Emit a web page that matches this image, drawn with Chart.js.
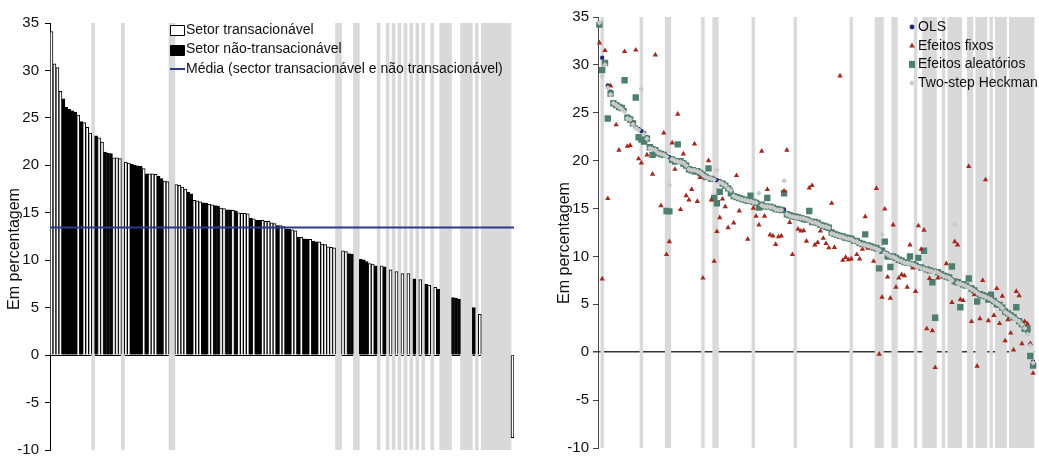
<!DOCTYPE html>
<html lang="pt">
<head>
<meta charset="utf-8">
<title>Margens por setor</title>
<script src="https://cdn.jsdelivr.net/npm/chart.js@4.4.1/dist/chart.umd.min.js"></script>
<style>
  html, body { margin: 0; padding: 0; background: #fff; }
  #painel { position: relative; width: 1039px; height: 456px; }
  #graficoSetores { position: absolute; left: 0; top: 0; }
  #graficoEstimadores { position: absolute; left: 520px; top: 0; }
</style>
</head>
<body>
<div id="painel">
  <canvas id="graficoSetores" width="520" height="456"></canvas>
  <canvas id="graficoEstimadores" width="519" height="456"></canvas>
</div>
<script>
// Margem por setor, ordenada de forma decrescente (null = setor sem barra)
const margemSetor = [
  34.1, 30.7, 30.3, 27.8, 27.0, 26.1, 25.9, 25.75, 25.6, 25.3,
  24.6, 24.5, 24.0, 23.4, null, 23.1, 22.9, 22.45, 21.4, 21.3,
  21.25, 20.8, 20.8, 20.7, null, 20.35, 20.25, 20.1, 20.0, 19.95,
  19.9, 19.65, 19.1, 19.1, 19.1, 19.05, 18.85, 18.6, 18.35, 18.3,
  null, null, 17.97, 17.9, 17.7, 17.5, 17.15, 17.0, 16.3, 16.25,
  16.15, 16.05, 16.0, 15.9, 15.85, 15.75, 15.7, 15.5, 15.45, 15.3,
  15.3, 15.25, 15.2, 15.0, 14.95, 14.95, 14.9, 14.45, 14.35, 14.2,
  14.2, 14.2, 14.1, 14.1, 13.95, 13.85, 13.65, 13.65, 13.55, 13.3,
  13.25, 13.2, 13.1, 12.45, 12.4, 12.25, 12.2, 12.2, 12.0, 11.95,
  11.95, 11.7, 11.65, 11.4, 11.35, 11.3, null, null, 11.0, 10.9,
  10.7, 10.65, null, null, 10.1, 10.05, 9.85, 9.65, 9.6, 9.4,
  null, 9.4, 9.3, null, 9.0, null, 8.8, null, 8.6, null,
  8.6, null, 8.05, null, 7.95, null, 7.45, 7.35, null, 7.15,
  6.95, null, null, null, null, 6.05, 6.0, 5.9, null, null,
  null, null, 5.0, null, 4.3, null, null, null, null, null,
  null, null, null, null, null, -8.7
];
// 1 = setor transacionável, 0 = não transacionável
const tipoSetor = [
  1, 1, 1, 1, 0, 0, 0, 0, 0, 1,
  0, 1, 1, 1, null, 0, 1, 1, 0, 0,
  0, 1, 1, 1, null, 1, 1, 0, 0, 0,
  0, 1, 0, 1, 1, 1, 0, 0, 1, 1,
  null, null, 1, 1, 1, 1, 0, 0, 1, 1,
  1, 0, 0, 1, 1, 0, 0, 1, 1, 0,
  0, 1, 0, 1, 1, 1, 1, 0, 1, 0,
  0, 1, 1, 1, 1, 1, 0, 1, 1, 0,
  0, 1, 1, 0, 1, 0, 0, 1, 0, 0,
  1, 1, 1, 1, 1, 1, null, null, 1, 1,
  0, 0, null, null, 0, 0, 0, 1, 1, 0,
  null, 1, 0, null, 1, null, 1, null, 1, null,
  1, null, 0, null, 1, null, 0, 1, null, 1,
  0, null, null, null, null, 0, 0, 0, null, null,
  null, null, 0, null, 1, null, null, null, null, null,
  null, null, null, null, null, 1
];
const mediaGeral = 13.45;

// Estimativas por setor, mesma ordenação
const ols = [
  34.2, 30.75, 30.2, 27.85, 27.2, 26.1, 25.9, 25.75, 25.6, 25.3,
  24.6, 24.4, 24.0, 23.5, 23.3, 23.1, 22.9, 22.45, 21.5, 21.35,
  21.25, 20.9, 20.8, 20.7, 20.5, 20.35, 20.25, 20.1, 20.0, 19.95,
  19.85, 19.6, 19.2, 19.1, 19.1, 19.0, 18.85, 18.6, 18.4, 18.3,
  18.2, 18.1, 17.95, 17.85, 17.7, 17.5, 17.2, 17.0, 16.4, 16.25,
  16.15, 16.05, 16.0, 15.9, 15.85, 15.75, 15.7, 15.5, 15.45, 15.3,
  15.3, 15.25, 15.2, 15.0, 14.95, 14.95, 14.9, 14.5, 14.35, 14.25,
  14.2, 14.15, 14.1, 14.05, 13.95, 13.85, 13.7, 13.65, 13.55, 13.35,
  13.25, 13.2, 13.1, 12.5, 12.4, 12.3, 12.2, 12.15, 12.0, 11.95,
  11.9, 11.7, 11.65, 11.45, 11.35, 11.3, 11.2, 11.1, 11.0, 10.9,
  10.75, 10.65, 10.45, 10.3, 10.1, 10.05, 9.9, 9.7, 9.6, 9.45,
  9.4, 9.35, 9.25, 9.1, 9.0, 8.9, 8.8, 8.7, 8.6, 8.55,
  8.5, 8.4, 8.2, 8.05, 7.95, 7.85, 7.6, 7.45, 7.35, 7.25,
  7.15, 7.0, 6.85, 6.7, 6.5, 6.3, 6.1, 6.0, 5.9, 5.75,
  5.6, 5.4, 5.2, 5.0, 4.7, 4.3, 4.1, 3.9, 3.7, 3.5,
  3.3, 3.0, 2.6, 2.0, 0.8, -1.0
];
const efeitosFixos = [
  32.3, 7.65, 31.5, 16.05, 27.8, null, 23.75, 21.1, null, 31.4,
  21.5, 21.6, 23.9, 31.55, 20.2, 19.75, null, 20.6, null, 18.6,
  31.05, null, 15.3, 22.9, 10.2, 11.55, 21.85, 19.1, 24.85, 14.9,
  20.7, 16.35, 15.9, 17.0, 21.75, 15.75, 18.25, 7.75, null, 20.0,
  15.9, 9.5, 12.6, 14.05, 16.0, 15.2, 13.0, null, 13.5, 18.45,
  14.75, null, null, 11.8, null, 15.05, 14.2, 13.3, 21.0, 14.2,
  17.0, 12.25, 12.15, 11.25, 12.05, 12.15, 16.85, 21.1, 13.55, 10.2,
  null, 12.85, 12.65, 12.7, 11.6, 17.15, 17.4, 11.2, 11.45, 12.65,
  11.9, 11.35, 10.9, 15.55, 10.95, null, 28.85, 9.6, 9.9, 9.65,
  9.75, null, 10.2, 9.75, 10.75, 14.15, 10.85, null, 9.5, 17.1,
  -0.2, 5.75, 14.95, 7.85, 5.65, 13.3, 6.8, 7.75, 8.1, 8.0,
  6.8, 11.2, 8.8, 6.35, 13.2, 10.75, 12.75, 2.45, 7.7, 2.25,
  -1.6, 7.75, 8.1, 7.9, 9.25, null, 5.2, 11.55, 11.2, 5.5,
  5.4, null, 19.4, 3.2, 6.0, -1.45, 3.5, 7.5, 18.0, 3.3,
  null, 3.85, 6.65, 3.0, 5.85, 1.2, 3.4, 2.0, 0.25, 6.35,
  5.9, 0.9, 3.2, 2.95, 0.9, -2.2
];
const efeitosAleatorios = [
  34.2, 29.45, 30.2, 24.4, 27.0, 26.0, 25.8, 25.6, 25.5, 28.4,
  24.5, 24.3, 23.9, 26.6, 22.45, 22.2, 22.0, 22.3, 21.4, 20.6,
  21.1, 20.8, 20.7, 20.6, 14.75, 14.7, 20.1, 19.9, 21.7, 19.95,
  19.7, 19.5, 19.1, 19.0, 18.9, 18.9, 18.7, 18.5, 18.3, 19.2,
  18.1, 16.1, 15.55, 16.75, 17.6, 17.4, 17.1, 16.6, 16.3, 16.2,
  16.1, 16.0, 15.9, 15.8, 16.35, 15.7, 15.6, 15.1, 15.4, 15.2,
  16.1, 15.2, 15.1, 14.95, 14.9, 14.85, 16.6, 14.4, 14.3, 14.2,
  14.15, 14.1, 14.0, 13.9, 13.85, 14.75, 13.6, 13.6, 13.5, 13.3,
  13.2, 13.1, 13.0, 12.5, 12.35, 12.25, 12.15, 12.1, 11.95, 11.9,
  11.85, 11.65, 11.6, 11.4, 11.3, 12.3, 11.15, 11.05, 10.95, 10.85,
  8.75, 10.6, 11.55, 10.0, 8.9, 10.0, 9.85, 9.65, 9.55, 9.4,
  9.35, 10.0, 9.2, 9.05, 9.85, 8.85, 10.6, 8.65, 8.55, 7.3,
  3.6, 8.35, 8.15, 8.0, 7.9, 7.8, 8.95, 7.4, 7.3, 4.7,
  7.1, 6.95, 7.7, 6.65, 6.45, 5.3, 6.05, 5.95, 5.85, 5.5,
  6.0, 5.35, 5.0, 4.95, 4.65, 4.25, 4.05, 3.85, 3.65, 4.7,
  3.25, 2.95, 2.45, 2.45, -0.4, -1.4
];
const heckman = [
  34.4, 28.8, 30.0, 27.6, 26.9, 26.0, 25.8, 25.6, 25.4, 25.1,
  24.4, 24.3, 23.8, 23.4, 23.2, 27.45, 22.8, 22.3, 21.3, 21.2,
  21.1, 20.8, 20.7, 20.6, 20.4, 17.45, 20.15, 20.0, 19.9, 19.85,
  19.75, 19.5, 19.1, 19.0, 19.0, 18.9, 18.75, 18.5, 18.3, 18.2,
  18.1, 18.0, 19.05, 17.75, 17.6, 17.4, 17.1, 16.9, 16.3, 16.15,
  16.05, 15.95, 15.9, 15.8, 15.75, 15.65, 15.6, 16.6, 15.35, 15.2,
  15.2, 15.15, 15.1, 14.9, 14.85, 14.85, 17.9, 14.4, 14.25, 14.15,
  14.1, 14.05, 14.0, 13.95, 13.85, 13.75, 13.6, 13.55, 13.45, 13.25,
  13.15, 13.1, 13.0, 12.4, 12.3, 12.2, 12.1, 12.05, 11.9, 11.85,
  11.8, 11.6, 11.55, 11.35, 11.25, 11.2, 11.1, 11.0, 10.9, 10.8,
  10.65, 12.3, 10.35, 10.2, 10.0, 9.95, 9.8, 9.6, 9.5, 9.35,
  9.3, 9.25, 9.15, 9.0, 8.9, 8.8, 8.7, 8.6, 8.5, 8.45,
  8.4, 8.3, 8.1, 7.95, 7.85, 7.75, 7.5, 13.35, 7.25, 7.15,
  7.05, 6.9, 6.75, 6.6, 6.4, 6.2, 6.0, 5.9, 5.8, 5.65,
  5.5, 5.3, 5.1, 4.9, 4.6, 4.2, 4.0, 3.8, 3.6, 3.4,
  3.2, 2.9, 2.5, 1.9, 0.7, -1.1
];
// setores assinalados a cinzento no painel da direita
const faixasDir = [
  1, 15, 24, 25, 37, 41, 42, 55, 70, 90, 99, 100, 101, 105, 106, 113,
  116, 117, 118, 119, 120, 123, 125, 126, 127, 128, 129, 132, 133,
  135, 136, 137, 138, 140, 142, 143, 144, 145,
  147, 148, 149, 150, 151, 152, 153, 154, 155
];

const Y_MIN = -10, Y_MAX = 35;
const CINZA = '#d9d9d9';
const FONTE = '"Liberation Sans", Arial, sans-serif';
const setores = margemSetor.map((_, i) => 'S' + (i + 1));

// desenha legenda, título do eixo e linha da média com posições fixas
const anotacoes = {
  id: 'anotacoes',
  afterDatasetsDraw(chart, args, opts) {
    const ctx = chart.ctx;
    const area = chart.chartArea;
    if (opts.media !== undefined) {
      const y = chart.scales.y.getPixelForValue(opts.media);
      ctx.save();
      ctx.strokeStyle = '#2b3a8c';
      ctx.lineWidth = 2;
      ctx.beginPath();
      ctx.moveTo(area.left, y);
      ctx.lineTo(area.right, y);
      ctx.stroke();
      ctx.restore();
    }
  },
  afterDraw(chart, args, opts) {
    const ctx = chart.ctx;
    ctx.save();
    if (opts.titulo) {
      ctx.translate(opts.titulo.x, opts.titulo.y);
      ctx.rotate(-Math.PI / 2);
      ctx.font = '16px ' + FONTE;
      ctx.fillStyle = '#111';
      ctx.textAlign = 'center';
      ctx.textBaseline = 'middle';
      ctx.fillText(opts.titulo.texto, 0, 0);
      ctx.setTransform(1, 0, 0, 1, 0, 0);
    }
    const leg = opts.legenda;
    if (leg) {
      ctx.font = '14px ' + FONTE;
      ctx.textBaseline = 'middle';
      ctx.textAlign = 'left';
      leg.itens.forEach((item, i) => {
        const y = leg.y + i * leg.passo;
        marca(ctx, item, leg.x, y);
        ctx.fillStyle = '#111';
        ctx.fillText(item.texto, leg.x + leg.recuo, y);
      });
    }
    ctx.restore();
  }
};

function marca(ctx, item, x, y) {
  ctx.fillStyle = item.cor;
  ctx.strokeStyle = '#000';
  ctx.lineWidth = 1;
  ctx.beginPath();
  if (item.forma === 'caixa') {
    ctx.rect(x + 0.5, Math.round(y - 5) + 0.5, 14, 10);
    ctx.fill();
    ctx.stroke();
  } else if (item.forma === 'linha') {
    ctx.strokeStyle = item.cor;
    ctx.lineWidth = 2;
    ctx.moveTo(x, y);
    ctx.lineTo(x + 15, y);
    ctx.stroke();
  } else if (item.forma === 'circle') {
    ctx.arc(x, y, 2.4, 0, Math.PI * 2);
    ctx.fill();
  } else if (item.forma === 'triangle') {
    ctx.moveTo(x, y - 3.2);
    ctx.lineTo(x + 2.8, y + 1.8);
    ctx.lineTo(x - 2.8, y + 1.8);
    ctx.closePath();
    ctx.fill();
  } else if (item.forma === 'rect') {
    ctx.rect(x - 3, y - 3.5, 6, 7);
    ctx.fill();
  } else if (item.forma === 'rectRot') {
    ctx.moveTo(x, y - 2.8);
    ctx.lineTo(x + 2.8, y);
    ctx.lineTo(x, y + 2.8);
    ctx.lineTo(x - 2.8, y);
    ctx.closePath();
    ctx.fill();
  }
}

function eixoY(largura, corEixo, corZero, espessuraZero, recuoTicks) {
  return {
    min: Y_MIN,
    max: Y_MAX,
    z: 1,
    afterFit(scale) {
      scale.width = largura;
      scale.paddingTop = 0;
      scale.paddingBottom = 0;
    },
    border: { display: true, color: corEixo, width: 1 },
    grid: {
      drawOnChartArea: true,
      drawTicks: true,
      tickLength: 5,
      tickColor: corEixo,
      lineWidth: c => (c.tick && c.tick.value === 0 ? espessuraZero : 1),
      color: c => (c.tick && c.tick.value === 0 ? corZero : 'rgba(0,0,0,0)')
    },
    ticks: {
      stepSize: 5,
      padding: recuoTicks,
      color: '#111',
      font: { family: FONTE, size: 15 }
    }
  };
}

const base = {
  responsive: false,
  animation: false,
  events: [],
  plugins: { legend: { display: false }, tooltip: { enabled: false } }
};

Chart.register(anotacoes);

new Chart(document.getElementById('graficoSetores'), {
  type: 'bar',
  data: {
    labels: setores,
    datasets: [
      {
        label: 'Setor transacionável',
        data: margemSetor.map((v, i) => (tipoSetor[i] === 1 ? v : null)),
        backgroundColor: '#ffffff',
        borderColor: '#000000',
        borderWidth: 1,
        grouped: false,
        barPercentage: 1,
        categoryPercentage: 1,
        order: 1
      },
      {
        label: 'Setor não-transacionável',
        data: margemSetor.map((v, i) => (tipoSetor[i] === 0 ? v : null)),
        backgroundColor: '#000000',
        borderColor: '#000000',
        borderWidth: 1,
        grouped: false,
        barPercentage: 1,
        categoryPercentage: 1,
        order: 1
      },
      {
        label: 'faixa',
        data: margemSetor.map(v => (v === null ? [Y_MIN, Y_MAX] : null)),
        backgroundColor: CINZA,
        borderWidth: 0,
        grouped: false,
        barPercentage: 1,
        categoryPercentage: 1,
        order: 5
      }
    ]
  },
  options: {
    ...base,
    layout: { padding: { top: 23, right: 6, bottom: 6, left: 0 } },
    scales: {
      x: { display: false },
      y: eixoY(50, '#000', '#000', 1, 6)
    },
    plugins: {
      ...base.plugins,
      anotacoes: {
        media: mediaGeral,
        titulo: { texto: 'Em percentagem', x: 15, y: 249 },
        legenda: {
          x: 170, y: 30, passo: 19.5, recuo: 16,
          itens: [
            { texto: 'Setor transacionável', forma: 'caixa', cor: '#ffffff' },
            { texto: 'Setor não-transacionável', forma: 'caixa', cor: '#000000' },
            { texto: 'Média (sector transacionável e não transacionável)', forma: 'linha', cor: '#2b3a8c' }
          ]
        }
      }
    }
  }
});

function pontos(label, dados, forma, raio, cor, ordem) {
  return {
    type: 'line',
    label: label,
    data: dados,
    showLine: false,
    pointStyle: forma,
    pointRadius: raio,
    pointBackgroundColor: cor,
    pointBorderColor: cor,
    pointBorderWidth: 0,
    order: ordem
  };
}

new Chart(document.getElementById('graficoEstimadores'), {
  type: 'bar',
  data: {
    labels: setores,
    datasets: [
      pontos('OLS', ols, 'circle', 2.2, '#1f2b6e', 3),
      pontos('Efeitos fixos', efeitosFixos, 'triangle', 3.1, '#a3281e', 1),
      pontos('Efeitos aleatórios', efeitosAleatorios, 'rect', 4.5, '#4e7e6d', 2),
      pontos('Two-step Heckman', heckman, 'rectRot', 2.8, '#cacaca', 0),
      {
        label: 'faixa',
        data: setores.map((_, i) => (faixasDir.includes(i) ? [Y_MIN, Y_MAX] : null)),
        backgroundColor: CINZA,
        borderWidth: 0,
        grouped: false,
        barPercentage: 1,
        categoryPercentage: 1,
        order: 9
      }
    ]
  },
  options: {
    ...base,
    layout: { padding: { top: 17, right: 0, bottom: 8, left: 0 } },
    scales: {
      x: { display: false },
      y: eixoY(78, '#444', '#333', 1.5, 4)
    },
    plugins: {
      ...base.plugins,
      anotacoes: {
        titulo: { texto: 'Em percentagem', x: 45, y: 243 },
        legenda: {
          x: 392, y: 27, passo: 18.7, recuo: 6,
          itens: [
            { texto: 'OLS', forma: 'circle', cor: '#1f2b6e' },
            { texto: 'Efeitos fixos', forma: 'triangle', cor: '#a3281e' },
            { texto: 'Efeitos aleatórios', forma: 'rect', cor: '#4e7e6d' },
            { texto: 'Two-step Heckman', forma: 'rectRot', cor: '#cacaca' }
          ]
        }
      }
    }
  }
});
</script>
</body>
</html>
